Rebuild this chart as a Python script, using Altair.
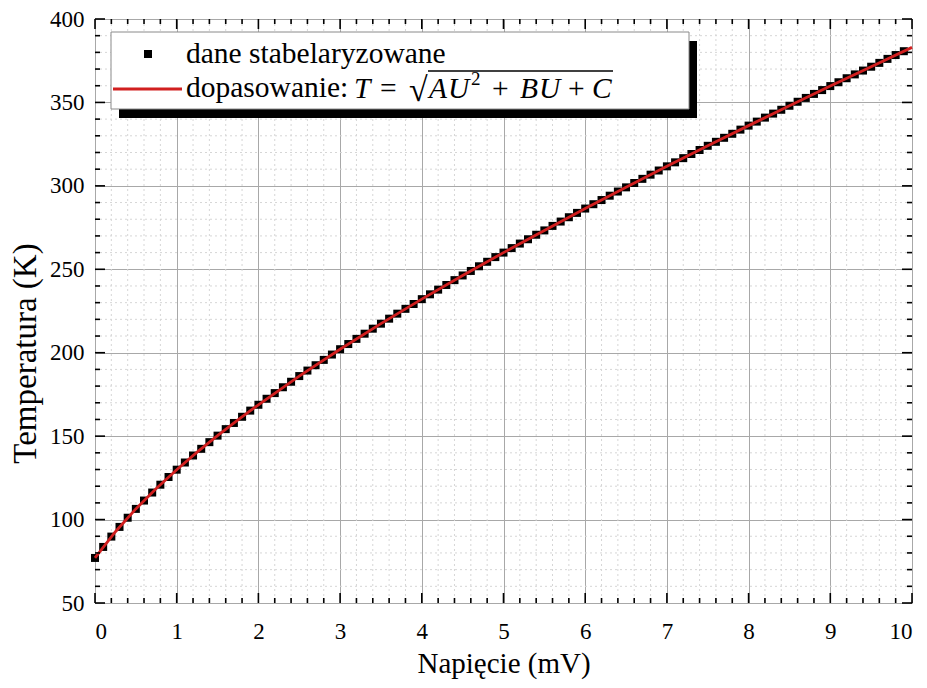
import altair as alt
import pandas as pd

# ---------------- data ----------------
U_mV = [0.0, 0.1, 0.2, 0.3, 0.4, 0.5, 0.6, 0.7, 0.8, 0.9,
        1.0, 1.1, 1.2, 1.3, 1.4, 1.5, 1.6, 1.7, 1.8, 1.9,
        2.0, 2.1, 2.2, 2.3, 2.4, 2.5, 2.6, 2.7, 2.8, 2.9,
        3.0, 3.1, 3.2, 3.3, 3.4, 3.5, 3.6, 3.7, 3.8, 3.9,
        4.0, 4.1, 4.2, 4.3, 4.4, 4.5, 4.6, 4.7, 4.8, 4.9,
        5.0, 5.1, 5.2, 5.3, 5.4, 5.5, 5.6, 5.7, 5.8, 5.9,
        6.0, 6.1, 6.2, 6.3, 6.4, 6.5, 6.6, 6.7, 6.8, 6.9,
        7.0, 7.1, 7.2, 7.3, 7.4, 7.5, 7.6, 7.7, 7.8, 7.9,
        8.0, 8.1, 8.2, 8.3, 8.4, 8.5, 8.6, 8.7, 8.8, 8.9,
        9.0, 9.1, 9.2, 9.3, 9.4, 9.5, 9.6, 9.7, 9.8, 9.9]
T_K = [77.0, 83.6, 89.8, 95.6, 101.1, 106.4, 111.4, 116.2, 120.9, 125.5,
       129.9, 134.2, 138.4, 142.4, 146.4, 150.3, 154.2, 157.9, 161.6, 165.3,
       168.8, 172.4, 175.8, 179.3, 182.6, 186.0, 189.3, 192.5, 195.7, 198.9,
       202.1, 205.2, 208.3, 211.4, 214.4, 217.4, 220.4, 223.4, 226.3, 229.2,
       232.1, 235.0, 237.8, 240.6, 243.5, 246.3, 249.0, 251.8, 254.5, 257.3,
       260.0, 262.7, 265.4, 268.0, 270.7, 273.3, 276.0, 278.6, 281.2, 283.8,
       286.4, 289.0, 291.5, 294.1, 296.6, 299.1, 301.7, 304.2, 306.7, 309.2,
       311.7, 314.1, 316.6, 319.1, 321.5, 324.0, 326.4, 328.8, 331.2, 333.7,
       336.1, 338.5, 340.9, 343.3, 345.6, 348.0, 350.4, 352.7, 355.1, 357.4,
       359.8, 362.1, 364.5, 366.8, 369.1, 371.4, 373.7, 376.1, 378.4, 380.7]

fit_U = [0.0, 0.25, 0.5, 0.75, 1.0, 1.25, 1.5, 1.75, 2.0, 2.5, 3.0, 3.5, 4.0,
         4.5, 5.0, 5.5, 6.0, 6.5, 7.0, 7.5, 8.0, 8.5, 9.0, 9.5, 10.0]
fit_T = [77.0, 92.7, 106.4, 118.6, 129.9, 140.4, 150.3, 159.8, 168.8, 186.0,
         202.1, 217.4, 232.1, 246.3, 260.0, 273.3, 286.4, 299.1, 311.7, 324.0,
         336.1, 348.0, 359.8, 371.4, 383.0]

x_major = [0, 1, 2, 3, 4, 5, 6, 7, 8, 9, 10]
y_major = [50, 100, 150, 200, 250, 300, 350, 400]
x_minor = [round(i * 0.2, 1) for i in range(51) if i % 5 != 0]
y_minor = [50 + 10 * i for i in range(36) if i % 5 != 0]

x_title = "Napięcie (mV)"
y_title = "Temperatura (K)"
leg1 = "dane stabelaryzowane"
leg2 = "dopasowanie:"

# ---------------- layout ----------------
W, H = 817, 584
FONT = "'Liberation Serif', 'Times New Roman', Times, serif"
RED = "#d11f1f"
LF = 29.5  # legend font size

xs = alt.Scale(domain=[0, 10], nice=False, zero=False)
ys = alt.Scale(domain=[50, 400], nice=False, zero=False)

pts = pd.DataFrame({"U": U_mV, "T": T_K})
fit = pd.DataFrame({"U": fit_U, "T": fit_T})
one = pd.DataFrame({"a": [0]})

xaxis = alt.Axis(values=x_major, format="d", grid=True, gridColor="#a8a8a8", gridWidth=1,
                 tickSize=0, domain=False, labelFont=FONT, labelFontSize=23, labelColor="black",
                 labelPadding=17, title=x_title, titleFont=FONT, titleFontSize=29,
                 titleFontWeight="normal", titleColor="black",
                 titleY=60, titleBaseline="middle")
yaxis = alt.Axis(values=y_major, format="d", grid=True, gridColor="#a8a8a8", gridWidth=1,
                 tickSize=0, domain=False, labelFont=FONT, labelFontSize=23, labelColor="black",
                 labelPadding=11, title=y_title, titleFont=FONT, titleFontSize=33,
                 titleFontWeight="normal", titleColor="black",
                 titleX=-70, titleY=334, titleBaseline="middle", titleAlign="center")

base_grid = alt.Chart(pts).mark_point(opacity=0).encode(
    x=alt.X("U:Q", scale=xs, axis=xaxis),
    y=alt.Y("T:Q", scale=ys, axis=yaxis))

minor_vx = alt.Chart(pd.DataFrame({"v": x_minor})).mark_rule(
    color="#d6d6d6", strokeDash=[2, 3], strokeWidth=1).encode(x=alt.X("v:Q", scale=xs))
minor_hy = alt.Chart(pd.DataFrame({"v": y_minor})).mark_rule(
    color="#d6d6d6", strokeDash=[2, 3], strokeWidth=1).encode(y=alt.Y("v:Q", scale=ys))

points = alt.Chart(pts).mark_square(size=64, color="black", opacity=1).encode(
    x=alt.X("U:Q", scale=xs), y=alt.Y("T:Q", scale=ys))
line = alt.Chart(fit).mark_line(color=RED, strokeWidth=2.8).encode(
    x=alt.X("U:Q", scale=xs), y=alt.Y("T:Q", scale=ys))


def ticks_x(vals, length):
    d = pd.DataFrame({"v": vals})
    b = alt.Chart(d).mark_rule(color="black", strokeWidth=1.6).encode(
        x=alt.X("v:Q", scale=xs), y=alt.value(H), y2=alt.value(H - length))
    t = alt.Chart(d).mark_rule(color="black", strokeWidth=1.6).encode(
        x=alt.X("v:Q", scale=xs), y=alt.value(0), y2=alt.value(length))
    return [b, t]


def ticks_y(vals, length):
    d = pd.DataFrame({"v": vals})
    l = alt.Chart(d).mark_rule(color="black", strokeWidth=1.6).encode(
        y=alt.Y("v:Q", scale=ys), x=alt.value(0), x2=alt.value(length))
    r = alt.Chart(d).mark_rule(color="black", strokeWidth=1.6).encode(
        y=alt.Y("v:Q", scale=ys), x=alt.value(W), x2=alt.value(W - length))
    return [l, r]


tick_layers = ticks_x(x_major, 10) + ticks_x(x_minor, 5) + ticks_y(y_major, 10) + ticks_y(y_minor, 5)


def txt(s, x, y, size=LF, style="normal"):
    return alt.Chart(one).mark_text(text=s, font=FONT, fontSize=size, fontStyle=style,
                                    color="black", align="left", baseline="alphabetic").encode(
        x=alt.value(x), y=alt.value(y))


shadow = alt.Chart(one).mark_rect(color="black").encode(
    x=alt.value(24), x2=alt.value(602), y=alt.value(22), y2=alt.value(99))
box = alt.Chart(one).mark_rect(fill="white", stroke="#8a8a8a", strokeWidth=1).encode(
    x=alt.value(16), x2=alt.value(594), y=alt.value(13), y2=alt.value(90))
leg_sq = alt.Chart(one).mark_square(size=64, color="black", opacity=1).encode(
    x=alt.value(53), y=alt.value(35))
leg_ln = alt.Chart(one).mark_rule(color=RED, strokeWidth=2.8).encode(
    x=alt.value(18), x2=alt.value(87), y=alt.value(70))
overline = alt.Chart(one).mark_rule(color="black", strokeWidth=1.4).encode(
    x=alt.value(333), x2=alt.value(518), y=alt.value(52))

MB = 79  # math baseline
legend_layers = [
    shadow, box, leg_sq, leg_ln,
    txt(leg1, 91, 44),
    txt(leg2, 91, 78),
    txt("T", 259, MB, LF, "italic"),
    txt("=", 285, MB, LF),
    txt("√", 314, MB + 3, 34),
    overline,
    txt("A", 334, MB, LF, "italic"),
    txt("U", 353, MB, LF, "italic"),
    txt("2", 376, MB - 13, 19),
    txt("+", 397, MB, LF),
    txt("B", 425, MB, LF, "italic"),
    txt("U", 444, MB, LF, "italic"),
    txt("+", 473, MB, LF),
    txt("C", 497, MB, LF, "italic"),
]

chart = alt.layer(
    base_grid, minor_vx, minor_hy, points, line, *tick_layers, *legend_layers
).properties(
    width=W, height=H,
    padding={"left": 87, "top": 11, "right": 7, "bottom": 77},
    autosize=alt.AutoSizeParams(type="none"),
).configure_view(stroke="black", strokeWidth=2).configure(background="white")

chart.save("out.html", embed_options={"renderer": "svg", "actions": False})
